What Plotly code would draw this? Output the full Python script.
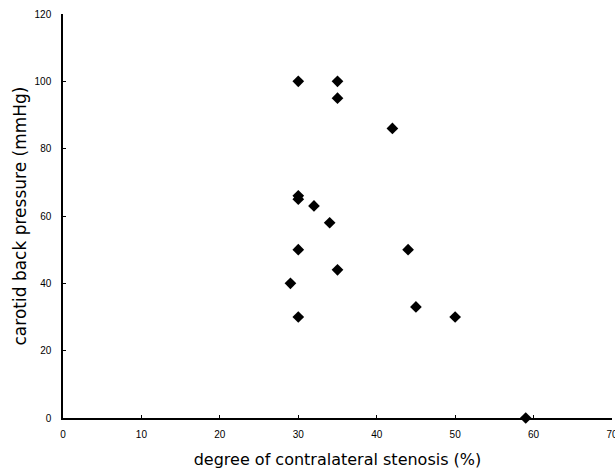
import plotly.graph_objects as go

stenosis = [30, 35, 35, 42, 30, 30, 32, 34, 30, 44, 35, 29, 45, 30, 50, 59]
pressure = [100, 100, 95, 86, 66, 65, 63, 58, 50, 50, 44, 40, 33, 30, 30, 0]

x_ticks = [0, 10, 20, 30, 40, 50, 60, 70]
y_ticks = [0, 20, 40, 60, 80, 100, 120]

fig = go.Figure()
fig.add_trace(go.Scatter(
    x=stenosis, y=pressure, mode="markers",
    marker=dict(symbol="diamond", size=9, color="black"),
    cliponaxis=False, showlegend=False,
))

fig.update_layout(
    width=615, height=472,
    margin=dict(l=63, r=3, t=14, b=54),
    paper_bgcolor="white", plot_bgcolor="white",
    font=dict(family="Liberation Sans, Arial, sans-serif", color="black"),
)
fig.update_xaxes(
    range=[0, 70], tickvals=x_ticks, ticktext=[str(v) for v in x_ticks],
    automargin=False, ticklabeloverflow="allow",
    showgrid=False, zeroline=False, showline=True, linecolor="black", linewidth=1.5,
    ticks="inside", ticklen=3, tickcolor="black", tickfont=dict(size=10),
    ticklabelstandoff=6,
    title=dict(text="degree of contralateral stenosis (%)",
               font=dict(size=16, family="DejaVu Sans"), standoff=15),
)
fig.update_yaxes(
    range=[0, 120], tickvals=y_ticks, ticktext=[str(v) for v in y_ticks],
    automargin=False, ticklabeloverflow="allow",
    showgrid=False, zeroline=False, showline=True, linecolor="black", linewidth=1.5,
    ticks="inside", ticklen=3, tickcolor="black", tickfont=dict(size=10),
    ticklabelstandoff=8,
    title=dict(text="carotid back pressure (mmHg)",
               font=dict(size=17, family="DejaVu Sans"), standoff=4),
)

fig.write_html("out.html", config={"displayModeBar": False},
               post_script="document.body.style.margin='0';")
